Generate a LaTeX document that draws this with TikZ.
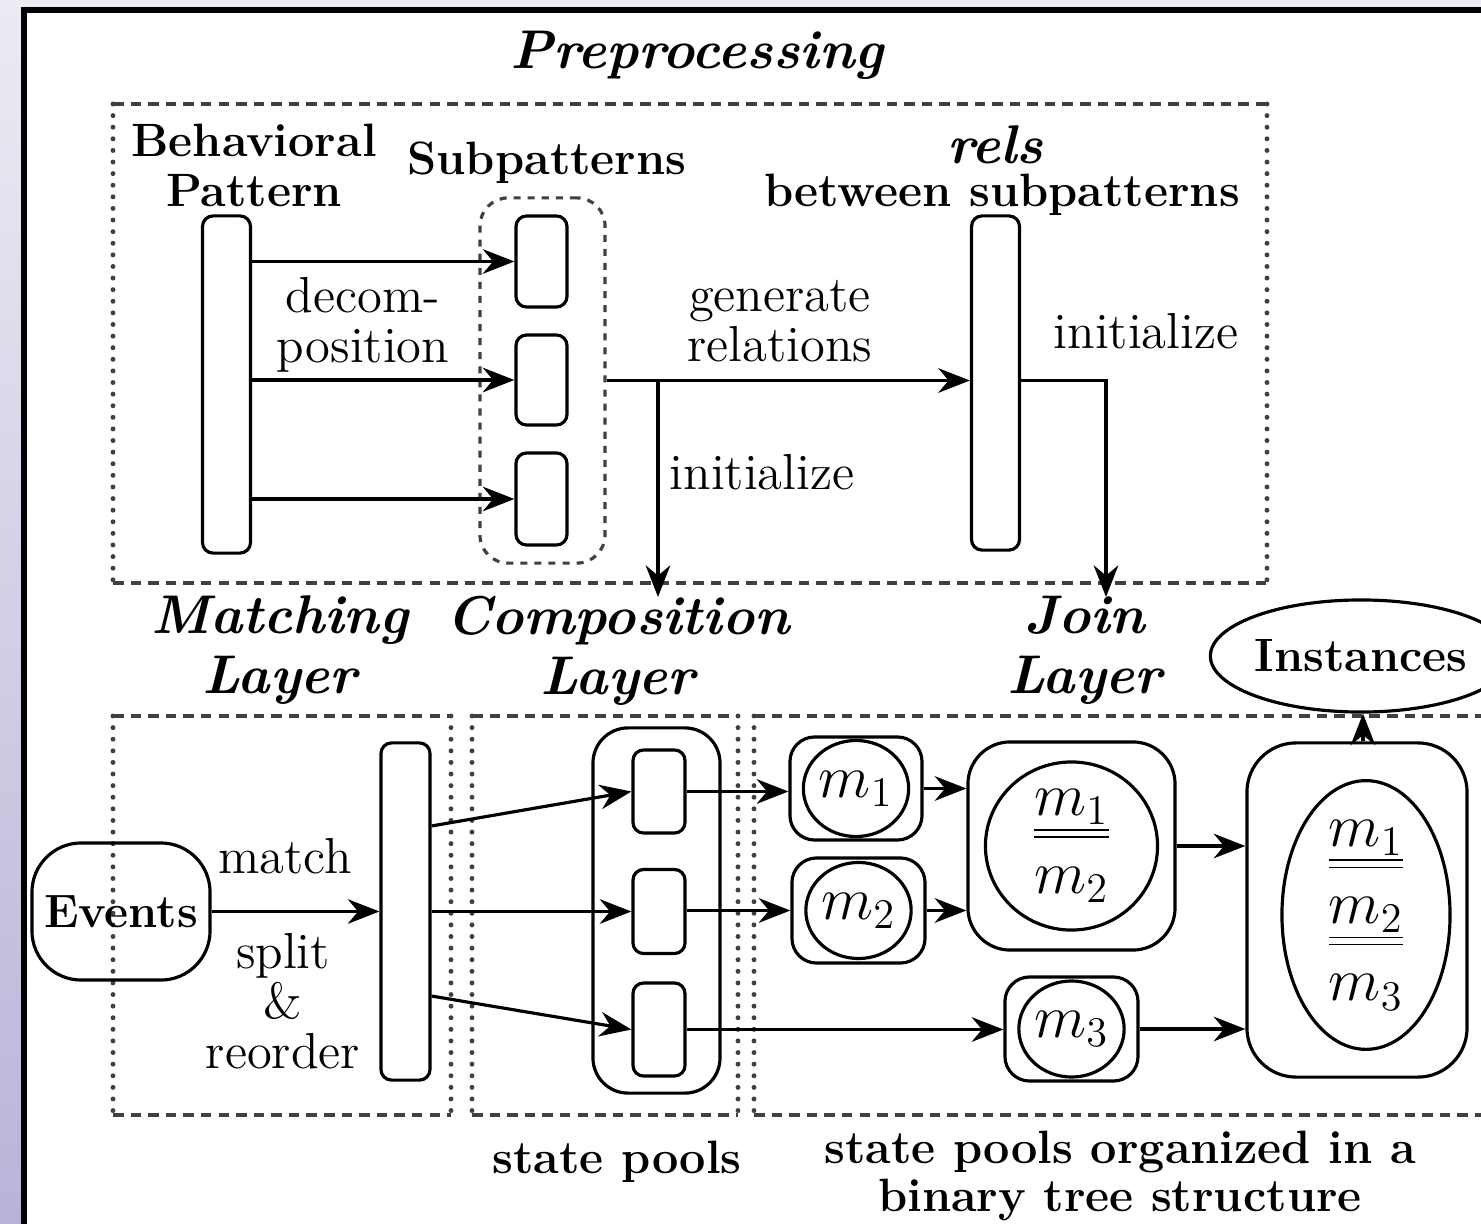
\documentclass[tikz,border=0pt]{standalone}
\usetikzlibrary{arrows.meta,shapes.geometric}
\definecolor{frametop}{RGB}{236,235,243}
\definecolor{framebot}{RGB}{184,180,216}
% layer box: dashed top and bottom, dotted sides
\newcommand{\layerbox}[4]{%
  \draw[line width=1pt, black!75, dash pattern=on 3pt off 2pt] (#1,#2) -- (#3,#2) (#1,#4) -- (#3,#4);
  \draw[line width=1.4pt, black!75, dash pattern=on 0pt off 3.3pt, line cap=round] (#1,#2) -- (#1,#4) (#3,#2) -- (#3,#4);}
\begin{document}
\begin{tikzpicture}[x=0.01cm,y=-0.01cm,line width=0.9pt,
    every node/.style={inner sep=0pt},
    bar/.style={draw, rounded corners=3pt, minimum width=0.48cm},
    pool/.style={draw, rounded corners=7pt},
    arr/.style={-{Stealth[length=9pt,width=7pt]}},
    ttl/.style={font=\fontsize{15.5}{17}\selectfont\bfseries\itshape, align=center},
    hd/.style={font=\fontsize{13.3}{14.2}\selectfont\bfseries, align=center},
    lbl/.style={font=\fontsize{14.4}{14.2}\selectfont, align=center},
    mth/.style={font=\fontsize{18}{20}\selectfont}]
    \useasboundingbox (0,0) rectangle (1481,1224);
    \clip (0,0) rectangle (1481,1224);
    \shade[top color=frametop, bottom color=framebot] (0,0) rectangle (1481,1224);
    \draw[line width=0.06cm, fill=white] (24,10) rectangle (1520,1260);

    % preprocessing
    \node[ttl] at (697, 55) {Preprocessing};
    \layerbox{113}{104}{1267}{583}
    \node[hd] at (254, 165) {Behavioral\\Pattern};
    \node[hd] at (547, 163) {Subpatterns};
    \node[font=\fontsize{15.5}{17}\selectfont\bfseries\itshape] at (995, 145) {rels};
    \node[hd] at (1002, 195) {between subpatterns};

    \node[bar, minimum height=3.37cm] (bp) at (226.5, 384.5) {};
    \node[draw, black!75, rounded corners=8pt, dash pattern=on 2pt off 2pt,
        minimum width=1.25cm, minimum height=3.65cm] (spgrp) at (542.5, 380.5) {};
    \node[bar, minimum width=0.51cm, minimum height=0.91cm] (sp1) at (541.5, 261.5) {};
    \node[bar, minimum width=0.51cm, minimum height=0.90cm] (sp2) at (541.5, 380) {};
    \node[bar, minimum width=0.51cm, minimum height=0.92cm] (sp3) at (541.5, 499) {};
    \node[bar, minimum height=3.34cm] (rels) at (995.5, 383) {};

    \draw[arr] (bp.east |- sp1.west) -- (sp1.west);
    \draw[arr] (bp.east |- sp2.west) -- (sp2.west);
    \draw[arr] (bp.east |- sp3.west) -- (sp3.west);
    \node[lbl] at (363, 325) {decom-\\position};

    \coordinate (initA) at (658, 597);
    \coordinate (initB) at (1106, 597);
    \draw[arr] (spgrp.east) -- (spgrp.east -| rels.west);
    \draw[arr] (spgrp.east -| initA) -- (initA);
    \draw[arr] (rels.east |- spgrp.east) -| (initB);
    \node[lbl] at (780, 321) {generate\\relations};
    \node[lbl] at (762, 472) {initialize};
    \node[lbl] at (1146, 331) {initialize};

    % layers
    \node[ttl] at (280, 650) {Matching\\Layer};
    \node[ttl] at (618, 651) {Composition\\Layer};
    \node[ttl] at (1085, 650) {Join\\Layer};
    \layerbox{113}{716}{451}{1115}
    \layerbox{472}{716}{738}{1115}
    \layerbox{754}{716}{1530}{1115}

    % matching layer
    \node[pool, rounded corners=14pt, minimum width=1.78cm, minimum height=1.37cm,
        font=\fontsize{13.3}{14.2}\selectfont\bfseries] (events) at (121, 911.5) {Events};
    \node[bar, minimum width=0.49cm, minimum height=3.37cm] (mbar) at (405.5, 911.5) {};
    \draw[arr] (events.east) -- (mbar.west);
    \node[lbl] at (285, 856) {match};
    \node[lbl] at (283, 1001) {split\\\&\\reorder};

    % composition layer
    \node[pool, rounded corners=10pt, minimum width=1.27cm, minimum height=3.65cm] (cgrp) at (656.5, 910.5) {};
    \node[bar, minimum width=0.52cm, minimum height=0.83cm] (c1) at (659, 791.5) {};
    \node[bar, minimum width=0.52cm, minimum height=0.84cm] (c2) at (659, 911.5) {};
    \node[bar, minimum width=0.52cm, minimum height=0.93cm] (c3) at (659, 1029.5) {};
    \draw[arr] ([yshift=0.855cm]mbar.east) -- (c1.west);
    \draw[arr] (mbar.east) -- (c2.west);
    \draw[arr] ([yshift=-0.845cm]mbar.east) -- (c3.west);
    \node[hd] at (617, 1162) {state pools};

    % join layer
    \node[pool, minimum width=1.32cm, minimum height=1.03cm] (p1) at (856, 788.5) {};
    \node[draw, ellipse, minimum width=0.92cm, minimum height=0.96cm, mth] (m1) at (p1) {$m_1$};
    \node[pool, minimum width=1.33cm, minimum height=1.05cm] (p2) at (858.5, 910.5) {};
    \node[draw, ellipse, minimum width=0.92cm, minimum height=0.96cm, mth] (m2) at (p2) {$m_2$};
    \node[pool, minimum width=1.33cm, minimum height=1.04cm] (p3) at (1071.5, 1029) {};
    \node[draw, ellipse, minimum width=0.92cm, minimum height=0.96cm, mth] (m3) at (p3) {$m_3$};
    \node[pool, rounded corners=12pt, minimum width=2.07cm, minimum height=2.08cm] (j12) at (1071.5, 846) {};
    \node[draw, ellipse, minimum width=1.72cm, minimum height=1.68cm, mth, align=center] (e12) at (j12)
        {$\underline{\underline{m_1}}$\\[2pt]$m_2$};
    \node[pool, rounded corners=14pt, minimum width=2.20cm, minimum height=3.34cm] (j123) at (1357, 910) {};
    \node[draw, ellipse, minimum width=1.68cm, minimum height=2.30cm, mth, align=center] (e123) at (1366, 915)
        {$\underline{\underline{m_1}}$\\[2pt]$\underline{\underline{m_2}}$\\[2pt]$m_3$};
    \node[draw, ellipse, minimum width=2.32cm, minimum height=1.12cm,
        font=\fontsize{13.3}{14.2}\selectfont\bfseries] (inst) at (1361, 656) {Instances};

    \draw[arr] (c1.east) -- (c1.east -| p1.west);
    \draw[arr] (c2.east |- p2.west) -- (p2.west);
    \draw[arr] (c3.east) -- (c3.east -| p3.west);
    \draw[arr] (p1.east) -- (p1.east -| j12.west);
    \draw[arr] (p2.east) -- (p2.east -| j12.west);
    \draw[arr] (j12.east) -- (j12.east -| j123.west);
    \draw[arr] (p3.east) -- (p3.east -| j123.west);
    \draw[arr] (j123.north -| 1363,0) -- (inst.south -| 1363,0);
    \node[hd, font=\fontsize{13.3}{13.6}\selectfont\bfseries] at (1120, 1176) {state pools organized in a\\binary tree structure};
\end{tikzpicture}
\end{document}
